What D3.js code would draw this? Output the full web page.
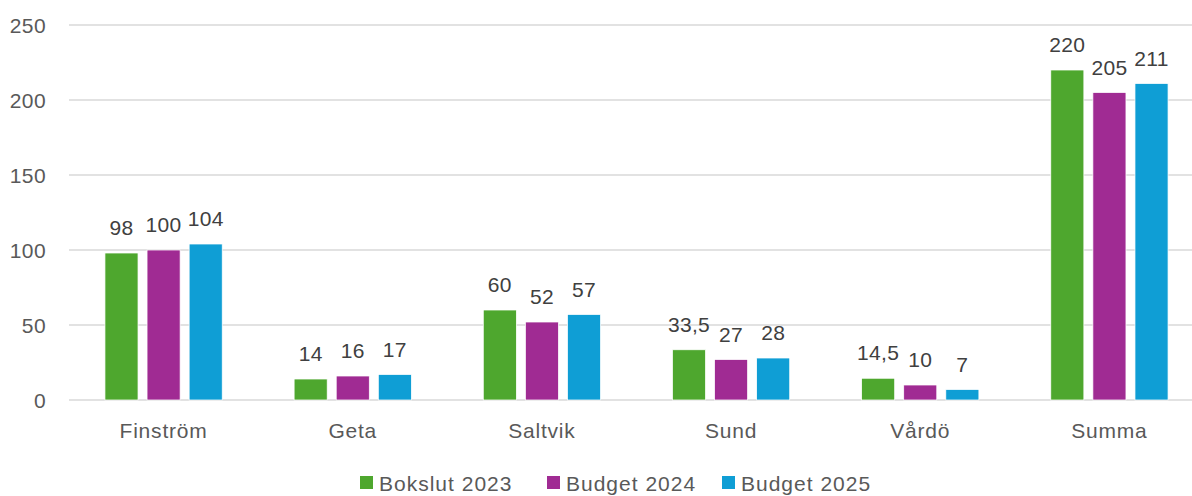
<!DOCTYPE html>
<html>
<head>
<meta charset="utf-8">
<script src="https://cdn.jsdelivr.net/npm/d3@7"></script>
<style>
  body { margin: 0; background: #fff; }
  text { font-family: "Liberation Sans", Arial, sans-serif; }
</style>
</head>
<body>
<script>
var w = 1192;
var h = 496;

var categories = ["Finström", "Geta", "Saltvik", "Sund", "Vårdö", "Summa"];
var seriesNames = ["Bokslut 2023", "Budget 2024", "Budget 2025"];
var bokslut2023 = [98, 14, 60, 33.5, 14.5, 220];
var budget2024 = [100, 16, 52, 27, 10, 205];
var budget2025 = [104, 17, 57, 28, 7, 211];
var yTicks = [0, 50, 100, 150, 200, 250];
var colors = ["#4EA72E", "#A02B93", "#0F9ED5"];

var seriesValues = [bokslut2023, budget2024, budget2025];

var xScale = d3.scaleBand()
	.domain(categories)
	.range([69, 1204])
	.paddingInner(0.38)
	.paddingOuter(0.19);

var xInner = d3.scaleBand()
	.domain(d3.range(seriesNames.length))
	.range([0, xScale.bandwidth()])
	.paddingInner(0.214);

var yScale = d3.scaleLinear()
	.domain([0, 250])
	.range([400, 25]);

var fmt = function(v) { return String(v).replace(".", ","); };

var svg = d3.select("body")
	.append("svg")
	.attr("width", w)
	.attr("height", h);

// gridlines
svg.selectAll("line.grid")
	.data(yTicks)
	.enter()
	.append("line")
	.attr("class", "grid")
	.attr("x1", 69)
	.attr("x2", 1204)
	.attr("y1", function(d) { return yScale(d); })
	.attr("y2", function(d) { return yScale(d); })
	.attr("stroke", "#d9d9d9")
	.attr("stroke-width", 1.5);

// y axis labels
svg.selectAll("text.ytick")
	.data(yTicks)
	.enter()
	.append("text")
	.attr("class", "ytick")
	.attr("x", 46)
	.attr("y", function(d) { return yScale(d); })
	.attr("dy", "0.36em")
	.attr("text-anchor", "end")
	.attr("font-size", 21)
	.attr("letter-spacing", 0.4)
	.attr("fill", "#595959")
	.text(function(d) { return d; });

// bars
var groups = svg.selectAll("g.cat")
	.data(categories)
	.enter()
	.append("g")
	.attr("class", "cat")
	.attr("transform", function(d) { return "translate(" + xScale(d) + ",0)"; });

groups.selectAll("rect")
	.data(function(d, i) {
		return seriesValues.map(function(s, j) { return { s: j, v: s[i] }; });
	})
	.enter()
	.append("rect")
	.attr("x", function(d) { return xInner(d.s); })
	.attr("y", function(d) { return yScale(d.v); })
	.attr("width", xInner.bandwidth())
	.attr("height", function(d) { return yScale(0) - yScale(d.v); })
	.attr("fill", function(d) { return colors[d.s]; })
	.attr("stroke", "#fff")
	.attr("stroke-width", 0.75);

groups.selectAll("text.lbl")
	.data(function(d, i) {
		return seriesValues.map(function(s, j) { return { s: j, v: s[i] }; });
	})
	.enter()
	.append("text")
	.attr("class", "lbl")
	.attr("x", function(d) { return xInner(d.s) + xInner.bandwidth() / 2; })
	.attr("y", function(d) { return yScale(d.v) - 18; })
	.attr("text-anchor", "middle")
	.attr("font-size", 21)
	.attr("letter-spacing", 0.3)
	.attr("fill", "#404040")
	.text(function(d) { return fmt(d.v); });

// category labels
svg.selectAll("text.xtick")
	.data(categories)
	.enter()
	.append("text")
	.attr("class", "xtick")
	.attr("x", function(d) { return xScale(d) + xScale.bandwidth() / 2; })
	.attr("y", 438)
	.attr("text-anchor", "middle")
	.attr("font-size", 21)
	.attr("letter-spacing", 0.8)
	.attr("fill", "#595959")
	.text(function(d) { return d; });

// legend
var legendX = [360, 547, 722];
var legend = svg.selectAll("g.legend")
	.data(seriesNames)
	.enter()
	.append("g")
	.attr("class", "legend")
	.attr("transform", function(d, i) { return "translate(" + legendX[i] + ",476)"; });

legend.append("rect")
	.attr("width", 13)
	.attr("height", 13)
	.attr("fill", function(d, i) { return colors[i]; });

legend.append("text")
	.attr("x", 19)
	.attr("y", 14.5)
	.attr("font-size", 21)
	.attr("letter-spacing", 1)
	.attr("fill", "#595959")
	.text(function(d) { return d; });
</script>
</body>
</html>
